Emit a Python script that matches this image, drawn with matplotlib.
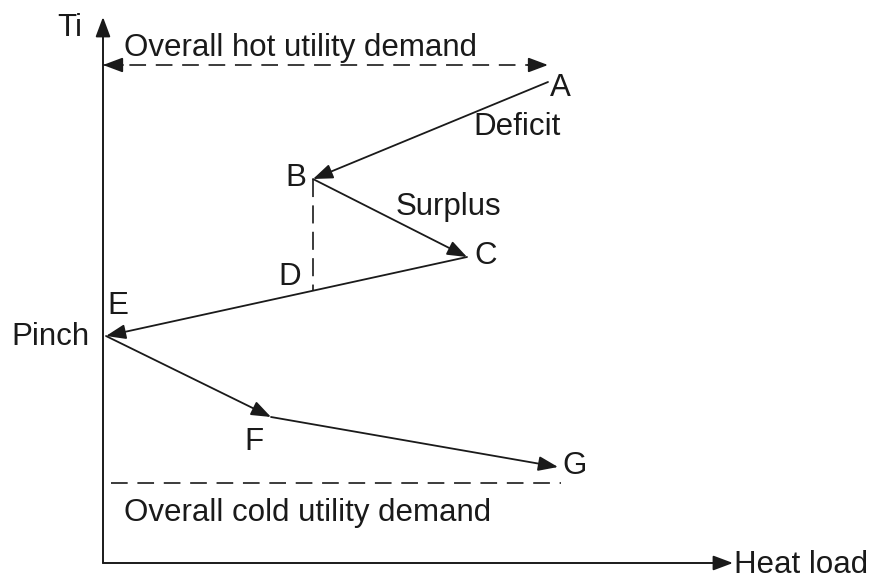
import matplotlib
matplotlib.use('Agg')
import matplotlib.pyplot as plt

# grand composite curve, arbitrary units (heat load Q, interval temperature T)
POINT_NAMES = ['A', 'B', 'C', 'D', 'E', 'F', 'G']
Q = [445, 210, 364, 210, 3, 168, 455]
T = [481, 384, 306, 272, 227, 146, 96]

# arrows drawn along the curve (from, to)
CURVE = [('A', 'B'), ('B', 'C'), ('C', 'E'), ('E', 'F'), ('F', 'G')]

HOT_UTILITY_T = 498
HOT_UTILITY_Q = [0, 445]
COLD_UTILITY_T = 80
COLD_UTILITY_Q = [8, 458]

Q_AXIS_END = 630
T_AXIS_END = 546

plt.rcParams['font.family'] = ['Liberation Sans', 'DejaVu Sans']
plt.rcParams['lines.scale_dashes'] = False

pts = {n: (q, t) for n, q, t in zip(POINT_NAMES, Q, T)}

fig = plt.figure(figsize=(8.78, 5.79), dpi=100)
ax = fig.add_axes([0, 0, 1, 1])
ax.set_xlim(-103, 775)
ax.set_ylim(-16, 563)
ax.axis('off')

FS = 22.5
INK = '#1a1a1a'
head = '-|>,head_length=0.8,head_width=0.3'

def arrow(p0, p1, lw=1.3):
    ax.annotate('', xy=p1, xytext=p0,
                arrowprops=dict(arrowstyle=head, color=INK, lw=lw,
                                mutation_scale=15, shrinkA=0, shrinkB=0))

# coordinate axes
arrow((0, 0), (0, T_AXIS_END), lw=1.4)
arrow((0, 0), (Q_AXIS_END, 0), lw=1.4)

# curve segments
for a, b in CURVE:
    arrow(pts[a], pts[b])

# B-D vertical dashed line
ax.plot([pts['B'][0], pts['D'][0]], [pts['B'][1], pts['D'][1]],
        color=INK, lw=1.2, dashes=(13, 6))

# hot utility dashed with heads on both ends
ax.plot(HOT_UTILITY_Q, [HOT_UTILITY_T] * 2, color=INK, lw=1.2, dashes=(12, 7))
arrow((HOT_UTILITY_Q[0] + 20, HOT_UTILITY_T), (HOT_UTILITY_Q[0], HOT_UTILITY_T))
arrow((HOT_UTILITY_Q[1] - 20, HOT_UTILITY_T), (HOT_UTILITY_Q[1], HOT_UTILITY_T))

# cold utility dashed
ax.plot(COLD_UTILITY_Q, [COLD_UTILITY_T] * 2, color=INK, lw=1.2, dashes=(12, 7))

# labels
kw = dict(fontsize=FS, color=INK, va='center')
ax.text(-33, 535, 'Ti', ha='center', **kw)
ax.text(198, 515, 'Overall hot utility demand', ha='center', **kw)
ax.text(414, 436, 'Deficit', ha='center', **kw)
ax.text(345, 356, 'Surplus', ha='center', **kw)
ax.text(-53, 226, 'Pinch', ha='center', **kw)
ax.text(205, 50, 'Overall cold utility demand', ha='center', **kw)
ax.text(631, -2, 'Heat load', ha='left', **kw)

label_pos = {'A': (457, 475), 'B': (193, 385), 'C': (383, 307), 'D': (187, 286),
             'E': (15, 257), 'F': (151, 121), 'G': (472, 97)}
for n in POINT_NAMES:
    ax.text(*label_pos[n], n, ha='center', **kw)

fig.savefig('out.png', dpi=100)
